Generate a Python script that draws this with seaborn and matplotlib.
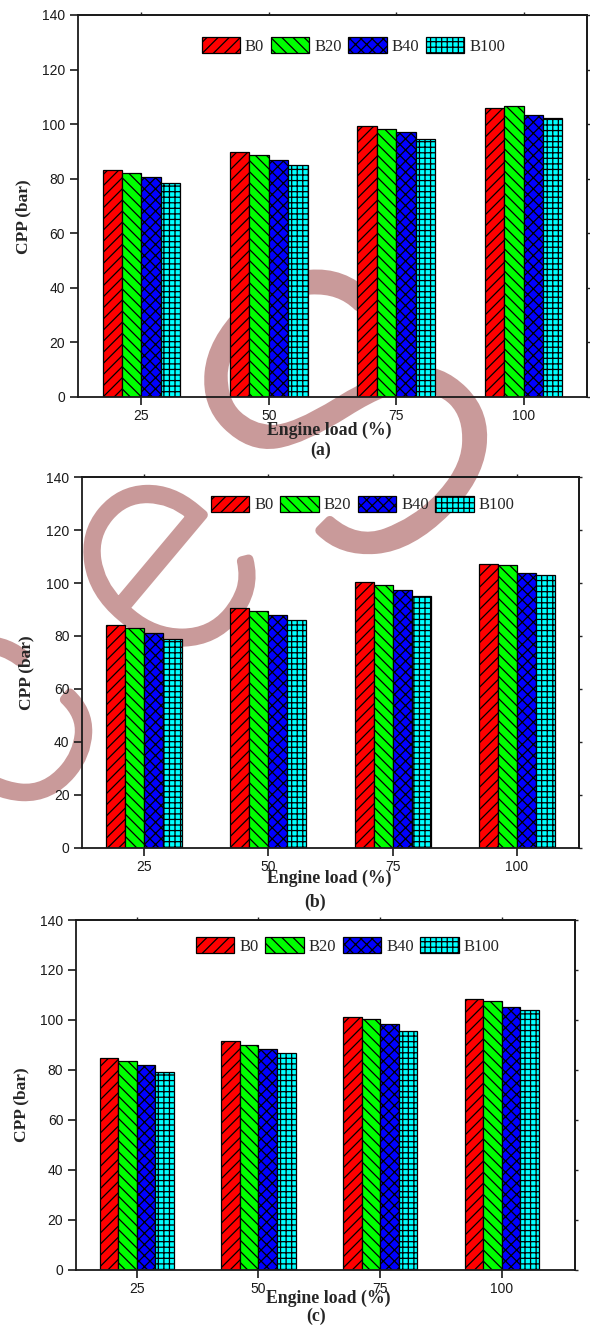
import matplotlib
matplotlib.use("Agg")
import matplotlib.pyplot as plt
import matplotlib.patheffects as pe
from matplotlib.patches import Patch
import numpy as np
import pandas as pd
import seaborn as sns

# Engine loads (%) and fuel blends
loads = ["25", "50", "75", "100"]
fuels = ["B0", "B20", "B40", "B100"]

# Cylinder peak pressure (bar), one row per blend, one column per load
cpp_a = [
    [83.1, 89.7, 99.1, 106.0],
    [82.2, 88.6, 98.3, 106.6],
    [80.7, 86.7, 96.9, 103.4],
    [78.5, 85.0, 94.5, 102.2],
]
cpp_b = [
    [84.0, 90.4, 100.4, 107.3],
    [82.9, 89.4, 99.1, 106.7],
    [81.1, 87.9, 97.3, 103.9],
    [78.9, 86.0, 95.1, 103.2],
]
cpp_c = [
    [84.9, 91.5, 101.3, 108.3],
    [83.7, 90.1, 100.3, 107.5],
    [81.9, 88.5, 98.3, 105.1],
    [79.1, 86.8, 95.5, 104.1],
]
panel_tags = ["(a)", "(b)", "(c)"]
yticks = [0, 20, 40, 60, 80, 100, 120, 140]

colors = ["#ff0000", "#00ff00", "#0000ff", "#00ffff"]
hatches = ["///", "\\\\\\", "xxx", "+++"]

sns.set_style("ticks")
plt.rcParams["font.family"] = ["Liberation Sans", "DejaVu Sans"]
plt.rcParams["hatch.linewidth"] = 0.9
serif = ["Liberation Serif", "DejaVu Serif"]

fig = plt.figure(figsize=(5.9, 13.27), dpi=100, facecolor="white")

# background lettering behind the plots
rose = "#c99a9a"
mark = dict(color=rose, family=["Roboto", "DejaVu Sans"],
            fontweight="light", ha="center", va="center", zorder=-1,
            path_effects=[pe.withStroke(linewidth=7, foreground=rose)])
fig.text(0.004, 0.458, "c", fontsize=222, rotation=50, **mark)
fig.text(0.2756, 0.573, "e", fontsize=222, rotation=50, **mark)
fig.text(0.578, 0.6933, "s", fontsize=375, rotation=45, **mark)

# [left, bottom, width, height], xlim right edge, legend anchor, label coords
layouts = [
    dict(rect=[0.1317, 0.7011, 0.8637, 0.2876], xmax=3.5, leg=(0.243, 0.919),
         xl=(0.493, -0.0886), tag=(0.477, -0.1415), yl=(-0.106, 0.472)),
    dict(rect=[0.1390, 0.3613, 0.8424, 0.2790], xmax=3.5, leg=(0.2596, 0.9265),
         xl=(0.497, -0.0824), tag=(0.469, -0.149), yl=(-0.111, 0.471)),
    dict(rect=[0.1285, 0.0433, 0.8460, 0.2634], xmax=3.6, leg=(0.2408, 0.9256),
         xl=(0.505, -0.0824), tag=(0.482, -0.135), yl=(-0.110, 0.471)),
]

for data, tag, lay in zip([cpp_a, cpp_b, cpp_c], panel_tags, layouts):
    ax = fig.add_axes(lay["rect"])
    ax.set_facecolor("none")
    df = pd.DataFrame(
        [(ld, f, v) for f, row in zip(fuels, data) for ld, v in zip(loads, row)],
        columns=["load", "fuel", "cpp"],
    )
    sns.barplot(data=df, x="load", y="cpp", hue="fuel", order=loads,
                hue_order=fuels, palette=colors, saturation=1, width=0.61,
                gap=0, edgecolor="black", linewidth=0.9, errorbar=None,
                legend=False, ax=ax)
    for cont, h in zip(ax.containers, hatches):
        for bar in cont:
            bar.set_hatch(h)

    ax.set_ylim(0, 140)
    ax.set_yticks(yticks)
    ax.set_xlim(-0.5, lay["xmax"])
    for sp in ax.spines.values():
        sp.set_visible(True)
        sp.set_linewidth(1.3)
        sp.set_color("#1a1a1a")
    ax.tick_params(axis="both", direction="out", length=5.5, width=1.2,
                   labelsize=10, colors="#1a1a1a", top=False, right=False)

    # mirrored minor marks on the top and right frame
    sx = ax.secondary_xaxis("top")
    sx.set_xticks(range(len(loads)))
    sx.tick_params(length=2.5, width=1.0, labeltop=False)
    sx.spines["top"].set_linewidth(1.3)
    sy = ax.secondary_yaxis("right")
    sy.set_yticks(yticks)
    sy.tick_params(length=2.5, width=1.0, labelright=False)
    sy.spines["right"].set_linewidth(1.3)

    ax.set_xlabel("Engine load (%)", family=serif, fontweight="bold",
                  fontsize=12.8, va="center")
    ax.xaxis.set_label_coords(*lay["xl"])
    ax.set_ylabel("CPP (bar)", family=serif, fontweight="bold", fontsize=12.5,
                  va="center")
    ax.yaxis.set_label_coords(*lay["yl"])
    ax.text(*lay["tag"], tag, transform=ax.transAxes, family=serif,
            fontweight="bold", fontsize=12.8, ha="center", va="center")

    handles = [Patch(facecolor=c, edgecolor="black", hatch=h, label=f,
                     linewidth=0.9)
               for c, h, f in zip(colors, hatches, fuels)]
    ax.legend(handles=handles, ncol=4, frameon=False, loc="center left",
              bbox_to_anchor=lay["leg"], borderpad=0, borderaxespad=0,
              handlelength=2.3, handleheight=1.1, handletextpad=0.3,
              columnspacing=0.4, prop={"family": serif, "size": 12})

fig.savefig("out.png", dpi=100, facecolor="white")
